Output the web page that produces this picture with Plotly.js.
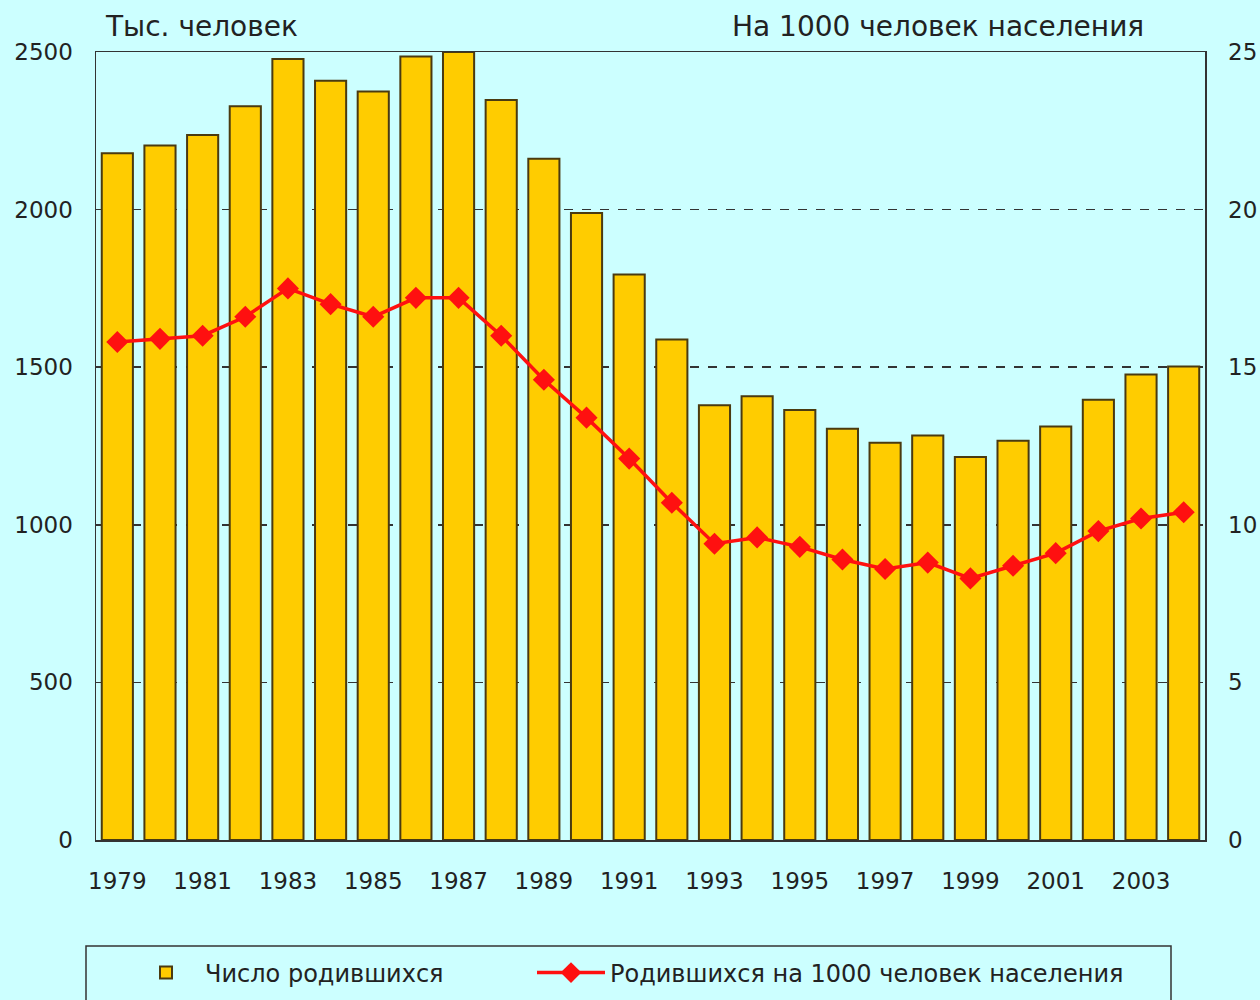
<!DOCTYPE html>
<html>
<head>
<meta charset="utf-8">
<script src="https://cdn.plot.ly/plotly-3.0.1.min.js"></script>
<style>html,body{margin:0;padding:0;background:#ccffff;}#chart{width:1260px;height:1000px;}</style>
</head>
<body>
<div id="chart"></div>
<script>
const years = [1979,1980,1981,1982,1983,1984,1985,1986,1987,1988,1989,1990,1991,1992,1993,1994,1995,1996,1997,1998,1999,2000,2001,2002,2003,2004];
const births = [2179,2203,2237,2328,2478,2409,2375,2486,2500,2348,2161,1989,1794,1588,1379,1408,1364,1305,1260,1283,1215,1267,1312,1397,1477,1502];
const birthRate = [15.8,15.9,16.0,16.6,17.5,17.0,16.6,17.2,17.2,16.0,14.6,13.4,12.1,10.7,9.4,9.6,9.3,8.9,8.6,8.8,8.3,8.7,9.1,9.8,10.2,10.4];
const leftTitle = "Тыс. человек";
const rightTitle = "На 1000 человек населения";
const barName = "Число родившихся";
const lineName = "Родившихся на 1000 человек населения";

const font = "DejaVu Sans, Verdana, sans-serif";
const txt = "#222222";

const traces = [
  {
    type: "bar", x: years, y: births, name: barName, legend: "legend",
    marker: {color: "#ffcc00", line: {color: "#4a3a10", width: 2}},
    hoverinfo: "x+y"
  },
  {
    type: "scatter", mode: "lines+markers", x: years, y: birthRate, name: lineName, yaxis: "y2", legend: "legend2",
    line: {color: "#ff1010", width: 3.5},
    marker: {symbol: "diamond", size: 17, color: "#ff1010"}
  }
];

const legendBase = {
  orientation: "h", xref: "container", yref: "container", y: (1000-973)/1000,
  xanchor: "left", yanchor: "middle", bgcolor: "rgba(0,0,0,0)", borderwidth: 0, itemwidth: 68,
  font: {family: font, size: 24, color: txt}
};

const layout = {
  width: 1260, height: 1000,
  paper_bgcolor: "#ccffff", plot_bgcolor: "#ccffff",
  margin: {l: 96, r: 55, t: 52, b: 160},
  font: {family: font, size: 23, color: txt},
  bargap: 0.27,
  showlegend: true,
  xaxis: {
    type: "linear", range: [1978.5, 2004.5], tick0: 1979, dtick: 2,
    showgrid: false, zeroline: false, ticks: "", ticklabelstandoff: 20,
    showline: true, mirror: true, linecolor: "#333333", linewidth: 1.5,
    tickfont: {family: font, size: 23, color: txt}
  },
  yaxis: {
    range: [0, 2500], dtick: 500, showgrid: true, gridcolor: "#333333", gridwidth: 1.5, griddash: "dash",
    zeroline: false, showline: true, mirror: true, linecolor: "#333333", linewidth: 1.5,
    ticks: "", ticklabelstandoff: 17, tickfont: {family: font, size: 23, color: txt}
  },
  yaxis2: {
    range: [0, 25], dtick: 5, overlaying: "y", side: "right", showgrid: false, zeroline: false,
    showline: true, linecolor: "#333333", linewidth: 1.5,
    ticks: "", ticklabelstandoff: 17, tickfont: {family: font, size: 23, color: txt}
  },
  annotations: [
    {xref: "paper", yref: "paper", x: (103-96)/1109, y: 1 + 26/788, xanchor: "left", yanchor: "middle",
     text: leftTitle, showarrow: false, font: {family: font, size: 28, color: txt}},
    {xref: "paper", yref: "paper", x: (1146-96)/1109, y: 1 + 26/788, xanchor: "right", yanchor: "middle",
     text: rightTitle, showarrow: false, font: {family: font, size: 28, color: txt}}
  ],
  shapes: [
    {type: "rect", xref: "paper", yref: "paper", x0: (86-96)/1109, x1: (1171-96)/1109,
     y0: -(1004-840)/788, y1: -(946-840)/788, line: {color: "#333333", width: 1.5}, fillcolor: "rgba(0,0,0,0)"}
  ],
  legend: Object.assign({}, legendBase, {x: 127/1260}),
  legend2: Object.assign({}, legendBase, {x: 532/1260})
};

Plotly.newPlot("chart", traces, layout, {displayModeBar: false, staticPlot: true});
</script>
</body>
</html>
